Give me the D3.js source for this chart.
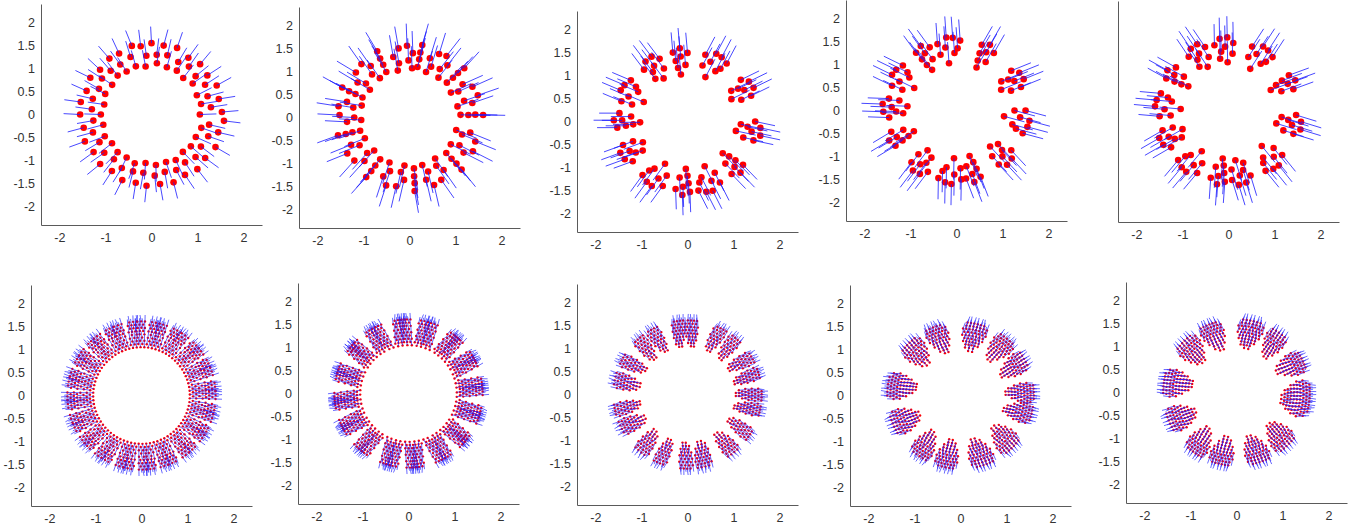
<!DOCTYPE html>
<html><head><meta charset="utf-8">
<script src="https://cdn.jsdelivr.net/npm/d3@7"></script>
<style>body{margin:0;background:#fff}svg{display:block}</style>
</head><body>
<script>
// ---------- tick labels / axis limits ----------
const xTicks = [-2, -1, 0, 1, 2];
const yTicks = [-2, -1.5, -1, -0.5, 0, 0.5, 1, 1.5, 2];
const axisLimits = [-2.4, 2.4];

// ---------- panel 1: points [angleDeg, radius, lineTiltDeg] ----------
const p1Points = [
 [2,1.53,3],[13,1.5,-4],[24,1.55,5],[35,1.48,-2],[46,1.52,4],[57,1.47,-3],[69,1.55,2],[80,1.52,-5],[90,1.55,3],[99,1.5,-2],[106,1.55,6],[118,1.5,-3],[127,1.52,4],[139,1.48,-2],[149,1.55,5],[160,1.5,-4],[170,1.56,2],[180,1.55,-3],[191,1.5,4],[202,1.56,-2],[213,1.5,3],[224,1.55,-5],[235,1.5,2],[246,1.56,-3],[257,1.52,4],[266,1.55,-2],[277,1.52,3],[288,1.55,-4],[299,1.5,5],[310,1.55,-2],[321,1.5,3],[333,1.56,-3],[345,1.5,2],[355,1.58,-2],
 [7,1.3,2],[18,1.28,-3],[29,1.33,4],[41,1.27,-2],[52,1.32,3],[63,1.28,-4],[75,1.33,2],[85,1.3,-2],[95,1.28,3],[110,1.33,-3],[122,1.28,4],[133,1.3,-2],[144,1.33,3],[154,1.27,-4],[165,1.32,2],[175,1.3,-3],[186,1.27,4],[197,1.33,-2],[208,1.28,3],[219,1.32,-4],[230,1.27,2],[241,1.33,-3],[252,1.3,4],[262,1.28,-2],[273,1.33,3],[283,1.28,-3],[294,1.32,4],[305,1.27,-2],[316,1.33,3],[327,1.28,-4],[339,1.32,2],[350,1.27,-3],
 [0,1.05,2],[12,1.1,-3],[23,1.07,4],[37,1.12,-2],[49,1.05,3],[60,1.1,-4],[72,1.08,2],[84,1.12,-3],[97,1.05,4],[108,1.1,-2],[120,1.08,3],[131,1.12,-4],[143,1.07,2],[156,1.1,-3],[168,1.05,4],[180,1.1,-2],[192,1.07,3],[205,1.12,-4],[216,1.06,2],[228,1.1,-3],[240,1.08,4],[251,1.12,-2],[263,1.06,3],[275,1.1,-4],[287,1.08,2],[298,1.12,-3],[310,1.06,4],[321,1.1,-2],[333,1.08,3],[345,1.12,-4]
];

// ---------- panel 2: spokes [angleDeg, lineTiltDeg, template] ----------
const p2Templates = [
 [[1.60,0],[1.43,0.5],[1.28,0.5],[1.11,1]],
 [[1.56,3],[1.40,-2],[1.24,2],[1.07,-2]],
 [[1.52,-3],[1.36,3],[1.20,-1],[1.05,2]]
];
const p2Spokes = [
 [2,-3,0],[15,4,1],[29,-5,2],[42,6,0],[56,-4,1],[68,5,2],[80,-6,0],[89,3,1],[102,-2,2],[116,5,0],[129,-4,1],[143,6,2],[156,-5,0],[168,3,1],[181,-4,2],[194,6,0],[207,-5,1],[221,7,2],[234,-6,0],[248,4,1],[262,-5,2],[274,6,0],[287,-4,1],[300,5,2],[315,-6,0],[329,4,1],[343,-5,2]
];

// ---------- panels 3-5: clusters [angleDeg, lineTiltDeg, template]; templates [radius, dAngleDeg] ----------
const clusterTemplates = [
 [[1.53,5],[1.60,-1],[1.49,-7],[1.34,4],[1.42,-1],[1.23,-5],[1.18,3],[1.03,1]],
 [[1.50,9],[1.60,1],[1.58,-4],[1.39,3],[1.26,9],[1.35,-8],[1.52,-10],[1.04,2],[1.25,-5]],
 [[1.16,5],[1.31,3],[1.47,8],[1.59,3],[1.07,-3],[1.41,-1],[1.26,-8],[1.61,-3],[1.49,-8]]
];
const p3Clusters = [[97,-2,0],[66,-4,1],[30,-4,2],[-8,-4,2],[-43,-3,0],[-71,8,1],[-93,5,0],[-120,-6,1],[-152,-8,2],[180,0,0],[154,3,1],[122,5,2]];
const p4Clusters = [[97,-3,1],[64,-4,0],[28,-6,2],[-9,-6,1],[-44,-3,2],[-75,6,0],[-95,4,1],[-123,-4,2],[-155,6,0],[178,0,2],[150,4,1],[120,6,0]];
const p5Clusters = [[94,-3,2],[61,-4,1],[26,-6,0],[-11,-6,2],[-48,-3,1],[-79,6,2],[-98,4,0],[-126,-4,1],[-156,6,2],[175,0,1],[147,4,0],[118,6,2]];

// ---------- panels 6-10: clusters [angleDeg, halfWidthDeg, lineTiltDeg] ----------
const p6Clusters = [[0,4.5,3],[9,4.5,-4],[18,4.5,5],[27,4.5,-2],[36,4.5,4],[45,4.5,-5],[54,4.5,2],[63,4.5,-3],[72,4.5,5],[81,4.5,-4],[90,4.5,3],[99,4.5,-5],[108,4.5,4],[117,4.5,-2],[126,4.5,5],[135,4.5,-4],[144,4.5,3],[153,4.5,-5],[162,4.5,2],[171,4.5,-3],[180,4.5,4],[189,4.5,-5],[198,4.5,3],[207,4.5,-2],[216,4.5,5],[225,4.5,-4],[234,4.5,3],[243,4.5,-5],[252,4.5,4],[261,4.5,-3],[270,4.5,5],[279,4.5,-4],[288,4.5,2],[297,4.5,-5],[306,4.5,4],[315,4.5,-3],[324,4.5,5],[333,4.5,-4],[342,4.5,3],[351,4.5,-5]];
const p7Clusters = [[0,5.3,10],[11,5.3,-8],[22,5.3,12],[34,5.3,-10],[45,5.3,8],[56,5.3,-12],[68,5.3,10],[79,5.3,-6],[90,5.3,9],[101,5.3,-10],[112,5.3,12],[124,5.3,-8],[135,5.3,10],[146,5.3,-12],[158,5.3,8],[169,5.3,-10],[180,5.3,12],[191,5.3,-8],[202,5.3,10],[214,5.3,-12],[225,5.3,8],[236,5.3,-10],[248,5.3,12],[259,5.3,-6],[270,5.3,9],[281,5.3,-10],[292,5.3,12],[304,5.3,-8],[315,5.3,10],[326,5.3,-12],[338,5.3,8],[349,5.3,-10]];
const p8Clusters = [[99,6,-4],[85,6,5],[65,6.5,-6],[48,6.5,4],[32,6.5,-5],[15,6,6],[1,6,-4],[-14,6,5],[-31,6.5,-6],[-53,7.5,4],[-75,7.5,-5],[-93,6.5,6],[-111,6.5,-4],[-131,7.5,5],[-151,7.5,-6],[-169,6.5,4],[170,7.5,-5],[150,6.5,6],[133,6.5,-4],[117,6.5,5]];
const p9Clusters = [[79,11.5,-5],[109,10.5,6],[137,11.5,-6],[170,12.5,5],[205,12,-5],[233,10.5,6],[259,10.5,-4],[287,11.5,5],[317,11.5,-6],[343,9.5,5],[4,9.5,-5],[27,10,6],[52,10.5,-5]];
const p10Clusters = [[79,12,-5],[110,11,6],[138,12,-6],[170,13,5],[205,12,-5],[232,11,6],[258,11,-4],[287,11.5,5],[316,12,-6],[353,17,5],[28,11,-6],[52,10,5]];

// radial rows (distance from inner radius) and relative row widths
const ringSteps = [0,0.07,0.14,0.21,0.28,0.35,0.42,0.49,0.56];
const petalSteps = [0,0.068,0.136,0.204,0.272,0.34,0.408,0.476,0.544,0.612];
const ringWidths = [1,1,1,1,1,1,1,1,1];
const p8Widths = [0.6,0.8,0.92,1,1,1,1,0.95,0.8];
const petalWidths = [0.45,0.62,0.76,0.87,0.95,1,1,0.97,0.88,0.7];
const lineWobble = [0,5,-4,7,-6,3,-2,6,-5,2,-7,4];

// ---------- layout (pixels) ----------
const W = 1352, H = 526, S = 221;
const frames = [[41,225],[299,228],[577,232],[846,221],[1118,222],[31,506],[298,504],[577,505],[850,506],[1126,503]];

const svg = d3.select("body").append("svg").attr("width", W).attr("height", H);
svg.append("defs").append("clipPath").attr("id","clip5").append("rect")
  .attr("x",1104).attr("y",0).attr("width",60).attr("height",260);

const rad = Math.PI/180;
const fmt = d => String(d);

function makeAxes(i){
  const [l,b] = frames[i];
  const x = d3.scaleLinear().domain(axisLimits).range([l, l+S]);
  const y = d3.scaleLinear().domain(axisLimits).range([b, b-S]);
  const g = svg.append("g");
  const gx = g.append("g").attr("transform",`translate(0,${b})`)
    .call(d3.axisBottom(x).tickValues(xTicks).tickFormat(fmt).tickSize(0).tickSizeOuter(0).tickPadding(8));
  const gy = g.append("g").attr("transform",`translate(${l},0)`)
    .call(d3.axisLeft(y).tickValues(yTicks).tickFormat(fmt).tickSize(0).tickSizeOuter(0).tickPadding(6));
  [gx,gy].forEach(a=>{
    a.select(".domain").attr("stroke","#5a5a5a").attr("stroke-width",1);
    a.selectAll("text").attr("fill","#333").attr("font-size","12.5px")
      .attr("font-family","'Liberation Sans', Arial, sans-serif");
  });
  if(i===4) gy.selectAll(".tick").attr("clip-path","url(#clip5)");
  return {x,y};
}

function draw(i, pts, st){
  const {x,y} = makeAxes(i);
  const g = svg.append("g");
  g.append("g").selectAll("circle").data(pts).join("circle")
    .attr("cx",d=>x(d.x)).attr("cy",d=>y(d.y)).attr("r",st.r).attr("fill","#ff0000");
  g.append("g").selectAll("line").data(pts).join("line")
    .attr("x1",d=>x(d.x)).attr("y1",d=>y(d.y))
    .attr("x2",d=>x(d.x+st.len*Math.cos(d.dir*rad)))
    .attr("y2",d=>y(d.y+st.len*Math.sin(d.dir*rad)))
    .attr("stroke","#1a1aff").attr("stroke-width",st.w).attr("stroke-opacity",st.op);
}

function fromPolar(list){
  return list.map(([a,r,t])=>({x:r*Math.cos(a*rad), y:r*Math.sin(a*rad), dir:a+t}));
}
function fromClusters(clusters, templates){
  const out=[];
  clusters.forEach(([a,t,k])=>templates[k].forEach(([r,da])=>{
    out.push({x:r*Math.cos((a+da)*rad), y:r*Math.sin((a+da)*rad), dir:a+t});
  }));
  return out;
}
// rows of points across each cluster, evenly spaced along the arc
function fromRows(clusters, p){
  const out=[];
  clusters.forEach(([a,hw,t],ci)=>{
    p.steps.forEach((s,k)=>{
      const r = p.rIn + s;
      const h = hw*(p.widths[k] ?? 1)*rad;
      const n = Math.max(1, Math.round(2*h*r/p.spacing));
      const shear = s*Math.tan(t*rad)/r;
      const off = (k%2) ? 0.25 : -0.25;
      for(let j=0;j<n;j++){
        const phi = a*rad - h + (j+0.5+off)*(2*h/n) + shear;
        const dir = a + t + lineWobble[(k*7+j+ci*3)%lineWobble.length];
        out.push({x:r*Math.cos(phi), y:r*Math.sin(phi), dir});
      }
    });
  });
  return out;
}

const topStyle = (len)=>({r:3.3, len, w:1, op:0.8});
const botStyle = {r:1.2, len:0.14, w:1, op:0.65};

draw(0, fromPolar(p1Points), topStyle(0.36));
draw(1, fromClusters(p2Spokes, p2Templates), topStyle(0.48));
draw(2, fromClusters(p3Clusters, clusterTemplates), topStyle(0.44));
draw(3, fromClusters(p4Clusters, clusterTemplates), topStyle(0.46));
draw(4, fromClusters(p5Clusters, clusterTemplates), topStyle(0.46));

draw(5, fromRows(p6Clusters,{steps:ringSteps,widths:ringWidths,rIn:1.05,spacing:0.085}), botStyle);
draw(6, fromRows(p7Clusters,{steps:ringSteps,widths:ringWidths,rIn:1.05,spacing:0.08}), botStyle);
draw(7, fromRows(p8Clusters,{steps:ringSteps,widths:p8Widths,rIn:1.05,spacing:0.075}), botStyle);
draw(8, fromRows(p9Clusters,{steps:petalSteps,widths:petalWidths,rIn:0.98,spacing:0.075}), botStyle);
draw(9, fromRows(p10Clusters,{steps:petalSteps,widths:petalWidths,rIn:0.98,spacing:0.075}), botStyle);
</script>
</body></html>
